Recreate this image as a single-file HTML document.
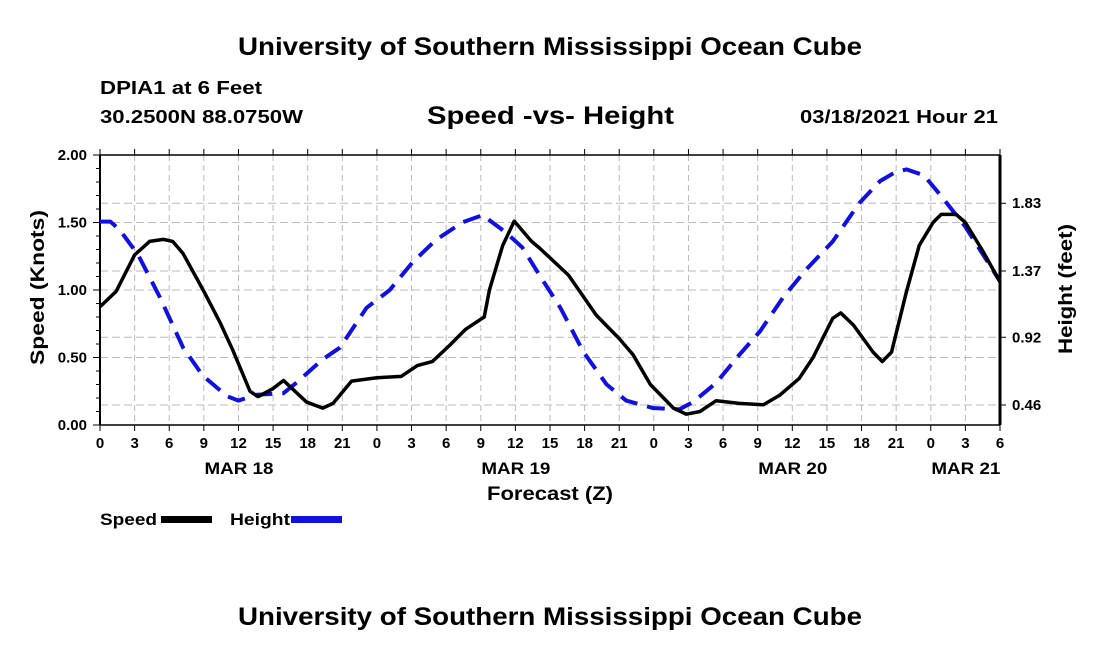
<!DOCTYPE html>
<html><head><meta charset="utf-8"><style>
body{margin:0;background:#fff;}
svg text{font-family:"Liberation Sans",sans-serif;font-weight:bold;fill:#000;}
</style></head><body>
<svg id="chart" width="1100" height="650" xmlns="http://www.w3.org/2000/svg">
<text x="238" y="55" font-size="25" textLength="624" lengthAdjust="spacingAndGlyphs">University of Southern Mississippi Ocean Cube</text>
<text x="100" y="94" font-size="18" textLength="162" lengthAdjust="spacingAndGlyphs">DPIA1 at 6 Feet</text>
<text x="100" y="123" font-size="18" textLength="203" lengthAdjust="spacingAndGlyphs">30.2500N 88.0750W</text>
<text x="427" y="124" font-size="25" textLength="247" lengthAdjust="spacingAndGlyphs">Speed -vs- Height</text>
<text x="800" y="123" font-size="18" textLength="198" lengthAdjust="spacingAndGlyphs">03/18/2021 Hour 21</text>
<g id="grid"></g><g id="axes"></g><g id="series"></g>
<text x="487" y="500" font-size="19" textLength="126" lengthAdjust="spacingAndGlyphs">Forecast (Z)</text>
<text transform="translate(44,365) rotate(-90)" font-size="19" textLength="155" lengthAdjust="spacingAndGlyphs">Speed (Knots)</text>
<text transform="translate(1072,354) rotate(-90)" font-size="19" textLength="130" lengthAdjust="spacingAndGlyphs">Height (feet)</text>
<g>
<text x="100" y="525" font-size="17" textLength="57" lengthAdjust="spacingAndGlyphs">Speed</text>
<rect x="161" y="516" width="51" height="7" fill="#000"/>
<text x="230" y="525" font-size="17" textLength="60" lengthAdjust="spacingAndGlyphs">Height</text>
<rect x="291" y="516" width="51" height="7" fill="#1010e0"/>
</g>
<text x="238" y="625" font-size="25" textLength="624" lengthAdjust="spacingAndGlyphs">University of Southern Mississippi Ocean Cube</text>
</svg>
<script>
const speedHours=[0,1.4,3,4.3,5.5,6.3,7.2,9,10.4,11.5,13,13.7,15,15.9,17.9,19.3,20.2,21.8,24,26.1,27.5,28.8,30.3,31.7,33.3,33.75,34.9,35.9,37.4,38.1,40.6,43,45,46.2,47.7,49.7,50.8,52,53.4,55.4,57.5,58.9,60.6,61.8,63.5,64.2,65.3,67,67.8,68.6,69.9,71,72.2,72.9,74.2,75,76.5,78];
const speedValues=[0.876,0.99,1.26,1.36,1.375,1.36,1.27,0.99,0.76,0.556,0.25,0.21,0.27,0.33,0.17,0.125,0.16,0.325,0.35,0.36,0.44,0.47,0.59,0.71,0.80,1.0,1.33,1.51,1.36,1.31,1.11,0.815,0.64,0.52,0.30,0.125,0.08,0.10,0.18,0.16,0.15,0.22,0.345,0.50,0.79,0.83,0.74,0.54,0.47,0.54,0.99,1.33,1.50,1.56,1.56,1.50,1.29,1.06];
const heightHours=[0,0.9,1.7,3.3,5.2,7.2,8.9,11,12,13.6,15.9,17,19.3,20.8,23.1,25.1,27.1,29.1,31.4,33.2,34,35.2,36.6,38.1,39.9,41.9,43.9,45.6,47.9,50.2,51.4,53.4,55.4,57.2,59.2,61.2,63.5,65.8,67.6,68.9,69.9,71.4,73,75,78];
const heightValues=[1.705,1.705,1.65,1.48,1.19,0.85,0.66,0.52,0.49,0.53,0.54,0.61,0.77,0.85,1.12,1.24,1.43,1.58,1.70,1.75,1.70,1.63,1.53,1.34,1.12,0.82,0.60,0.49,0.44,0.43,0.48,0.61,0.80,0.96,1.19,1.38,1.57,1.83,1.98,2.04,2.06,2.02,1.87,1.67,1.30];
const speedTicks=["0.00","0.50","1.00","1.50","2.00"];
const heightTicks=["0.46","0.92","1.37","1.83"];
const dayLabels=["MAR 18","MAR 19","MAR 20","MAR 21"];
const dayLabelHours=[12,36,60,75];

const L=100,R=1000,T=155,B=425,HMAX=78;
const xS=h=>L+h*(R-L)/HMAX;
const yS=v=>B-v*(B-T)/2;
const yH=f=>405-(f-0.46)*67.3/0.457;
const NS="http://www.w3.org/2000/svg";
function mk(tag,attrs,parent){const e=document.createElementNS(NS,tag);for(const k in attrs)e.setAttribute(k,attrs[k]);parent.appendChild(e);return e;}
const grid=document.getElementById('grid'),axes=document.getElementById('axes'),series=document.getElementById('series');
for(let h=0;h<=HMAX;h+=3){
  const x=xS(h);
  if(h>0&&h<HMAX){const g=mk('line',{x1:x,y1:T,x2:x,y2:B,stroke:'#bbb','stroke-width':1,'stroke-dasharray':'6,4'},grid);
  
  }
  mk('line',{x1:x,y1:B,x2:x,y2:B+6,stroke:'#000','stroke-width':1},axes);
  mk('line',{x1:x,y1:T,x2:x,y2:T-6,stroke:'#000','stroke-width':1},axes);
  const t=mk('text',{x:x,y:B+23,'font-size':15,'text-anchor':'middle'},axes);
  t.textContent=String(h%24);
  
  
}
dayLabels.forEach((d,i)=>{const t=mk('text',{x:xS(dayLabelHours[i])-34,y:474,'font-size':17,textLength:69,lengthAdjust:'spacingAndGlyphs'},axes);t.textContent=d;
  
  });
speedTicks.forEach(s=>{const v=parseFloat(s),y=yS(v);
  if(v>0&&v<2){const g=mk('line',{x1:L,y1:y,x2:R,y2:y,stroke:'#bbb','stroke-width':1,'stroke-dasharray':'8,4'},grid);
  
  }
  mk('line',{x1:L-7,y1:y,x2:L,y2:y,stroke:'#000','stroke-width':1},axes);
  const t=mk('text',{x:L-13,y:y+5,'font-size':15,'text-anchor':'end'},axes);t.textContent=s;
  
  });
for(let v=0.1;v<2;v+=0.1){const y=yS(v);mk('line',{x1:L-4,y1:y,x2:L,y2:y,stroke:'#000','stroke-width':1},axes);}
heightTicks.forEach(s=>{const y=yH(parseFloat(s));
  const g=mk('line',{x1:L,y1:y,x2:R,y2:y,stroke:'#bbb','stroke-width':1,'stroke-dasharray':'8,4'},grid);
  
  
  mk('line',{x1:R,y1:y,x2:R+6,y2:y,stroke:'#000','stroke-width':1},axes);
  const t=mk('text',{x:R+12,y:y+5,'font-size':15},axes);t.textContent=s;
  
  });
mk('line',{x1:L,y1:T,x2:R,y2:T,stroke:'#000','stroke-width':1.5},axes);
mk('line',{x1:L,y1:B,x2:R,y2:B,stroke:'#000','stroke-width':1.5},axes);
mk('line',{x1:L,y1:T,x2:L,y2:B,stroke:'#000','stroke-width':2},axes);
mk('line',{x1:R,y1:T,x2:R,y2:B,stroke:'#000','stroke-width':3},axes);
const hp=mk('polyline',{points:heightHours.map((h,i)=>xS(h)+','+yH(heightValues[i])).join(' '),fill:'none',stroke:'#1010e0','stroke-width':4,'stroke-dasharray':'18,10','stroke-linejoin':'round'},series);


const sp=mk('polyline',{points:speedHours.map((h,i)=>xS(h)+','+yS(speedValues[i])).join(' '),fill:'none',stroke:'#000','stroke-width':3.5,'stroke-linejoin':'round'},series);


</script>
</body></html>
